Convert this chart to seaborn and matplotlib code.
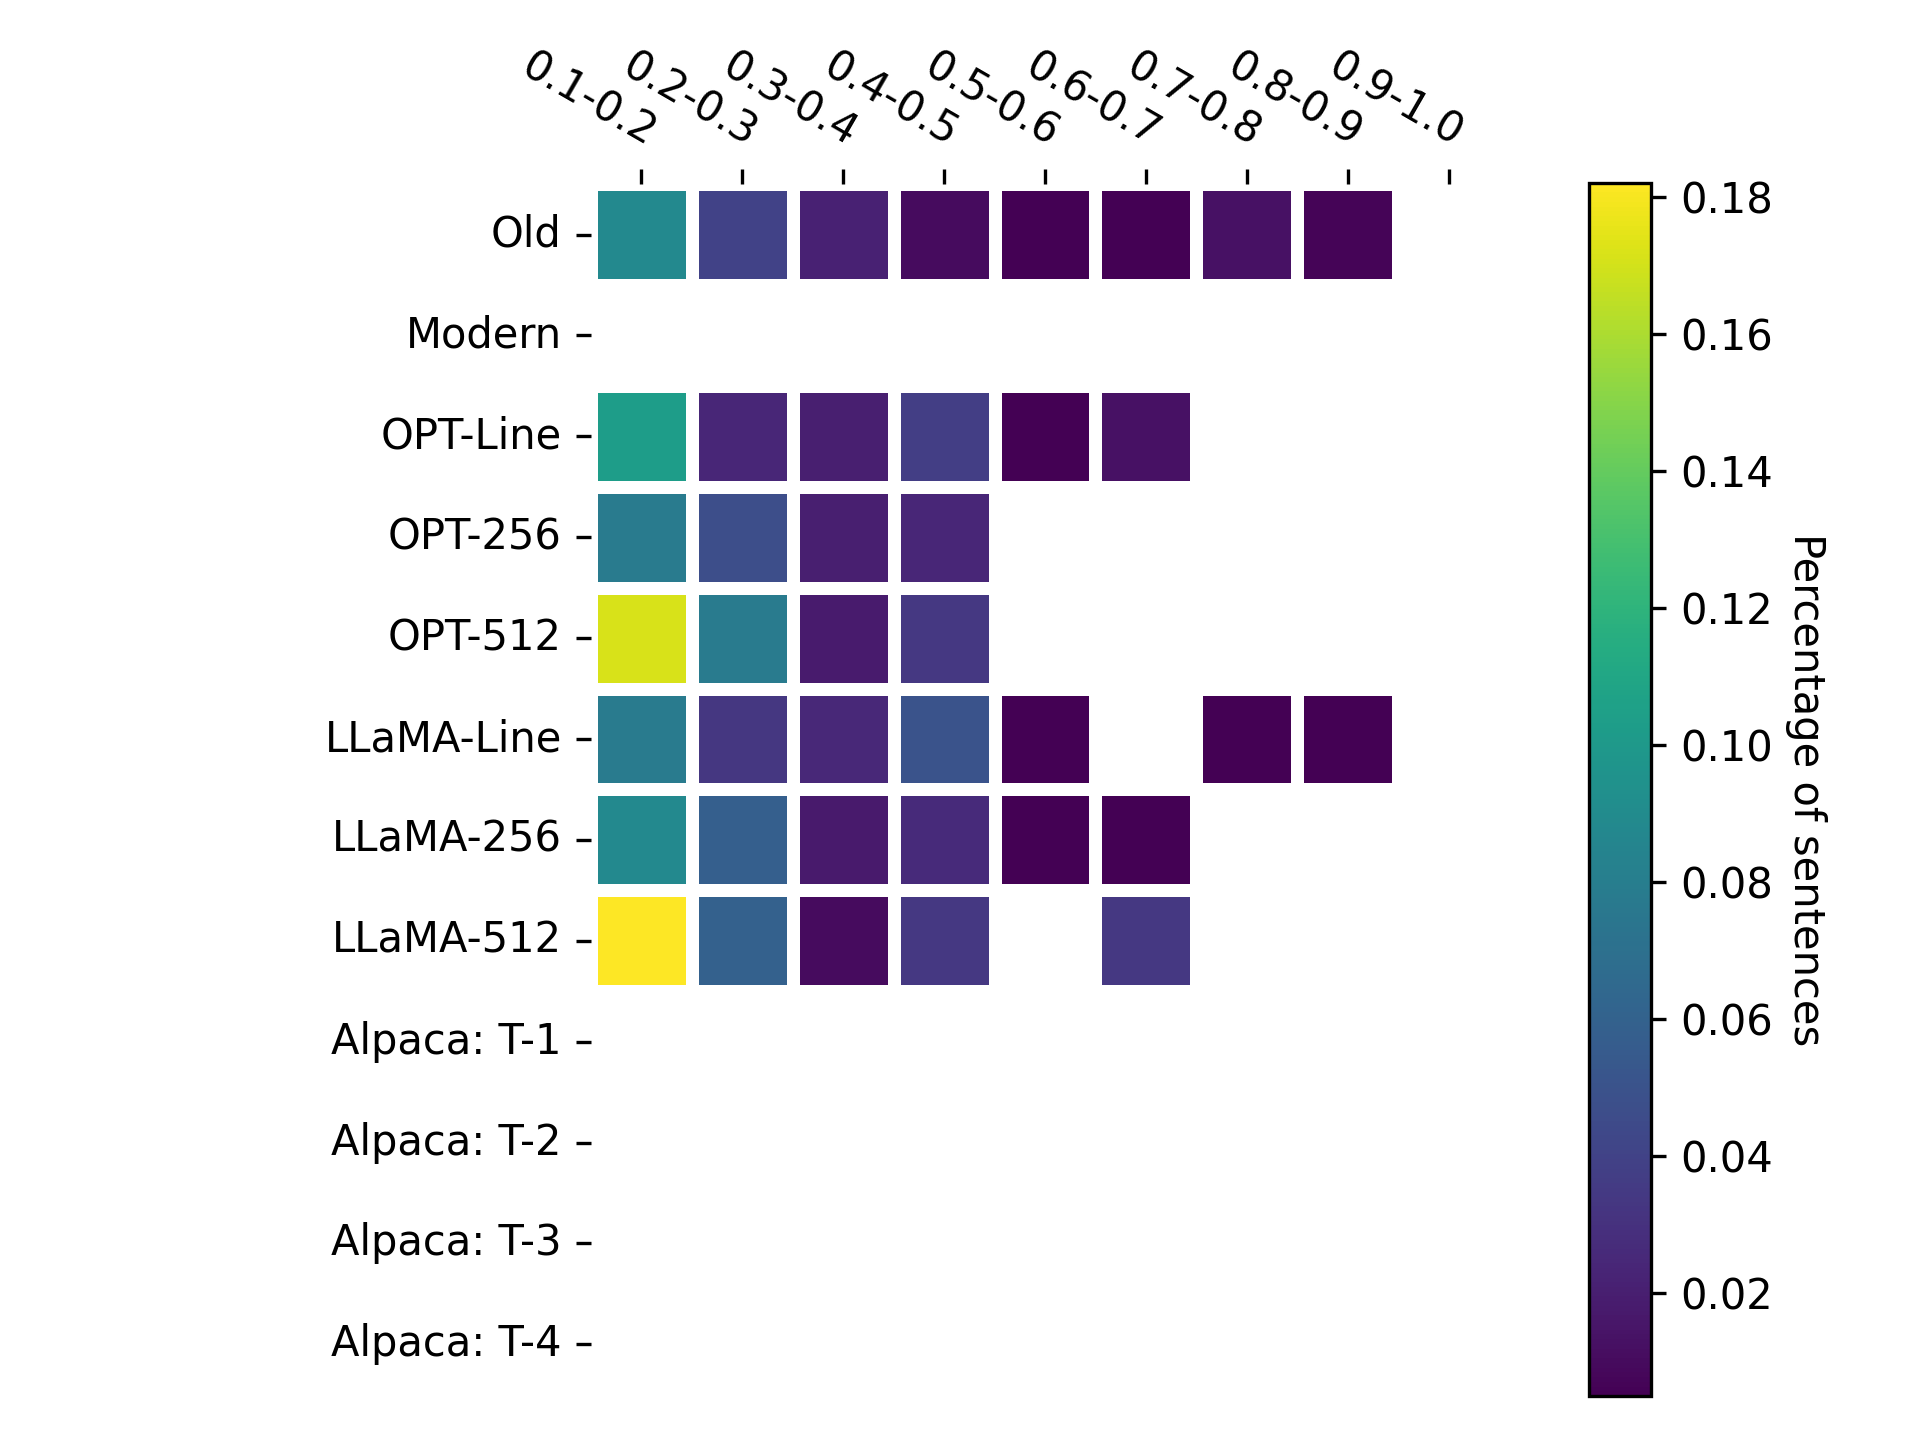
import numpy as np
import pandas as pd
import matplotlib
matplotlib.use("Agg")
import matplotlib.pyplot as plt
import seaborn as sns

nan = np.nan

bins = ["0.1-0.2", "0.2-0.3", "0.3-0.4", "0.4-0.5", "0.5-0.6",
        "0.6-0.7", "0.7-0.8", "0.8-0.9", "0.9-1.0"]
models = ["Old", "Modern", "OPT-Line", "OPT-256", "OPT-512",
          "LLaMA-Line", "LLaMA-256", "LLaMA-512",
          "Alpaca: T-1", "Alpaca: T-2", "Alpaca: T-3", "Alpaca: T-4"]

old        = [0.088, 0.040, 0.021, 0.010, 0.005, 0.005, 0.013, 0.0065, nan]
modern     = [nan, nan, nan, nan, nan, nan, nan, nan, nan]
opt_line   = [0.103, 0.024, 0.020, 0.037, 0.005, 0.013, nan, nan, nan]
opt_256    = [0.078, 0.047, 0.020, 0.024, nan, nan, nan, nan, nan]
opt_512    = [0.171, 0.078, 0.018, 0.034, nan, nan, nan, nan, nan]
llama_line = [0.078, 0.033, 0.025, 0.050, 0.005, nan, 0.0052, 0.0052, nan]
llama_256  = [0.088, 0.058, 0.017, 0.026, 0.005, 0.0055, nan, nan, nan]
llama_512  = [0.182, 0.059, 0.010, 0.034, nan, 0.034, nan, nan, nan]
alpaca_t1  = [nan] * 9
alpaca_t2  = [nan] * 9
alpaca_t3  = [nan] * 9
alpaca_t4  = [nan] * 9

rows = [old, modern, opt_line, opt_256, opt_512, llama_line, llama_256,
        llama_512, alpaca_t1, alpaca_t2, alpaca_t3, alpaca_t4]
df = pd.DataFrame(rows, index=models, columns=bins)

fig = plt.figure(figsize=(6.4, 4.8), dpi=300)
ax = fig.add_axes([591 / 1920, 44 / 1440, 908 / 1920, 1213 / 1440])
cax = fig.add_axes([1589 / 1920, 44 / 1440, 62 / 1920, 1213 / 1440])

sns.heatmap(df, ax=ax, cbar_ax=cax, cmap="viridis", linewidths=3,
            linecolor="white", square=True)

ax.xaxis.tick_top()
ax.set_xticklabels(bins, rotation=-30, ha="right", va="bottom",
                   rotation_mode="anchor")
ax.set_yticklabels(models, rotation=0)
ax.set_xlabel("")
ax.set_ylabel("")
ax.tick_params(axis="both", labelsize=10)

cbar = ax.collections[0].colorbar
cbar.outline.set_linewidth(0.8)
cbar.outline.set_edgecolor("black")
cbar.ax.tick_params(labelsize=10)
cbar.set_label("Percentage of sentences", rotation=270, labelpad=13, fontsize=10)

fig.savefig("out.png", dpi=300)
